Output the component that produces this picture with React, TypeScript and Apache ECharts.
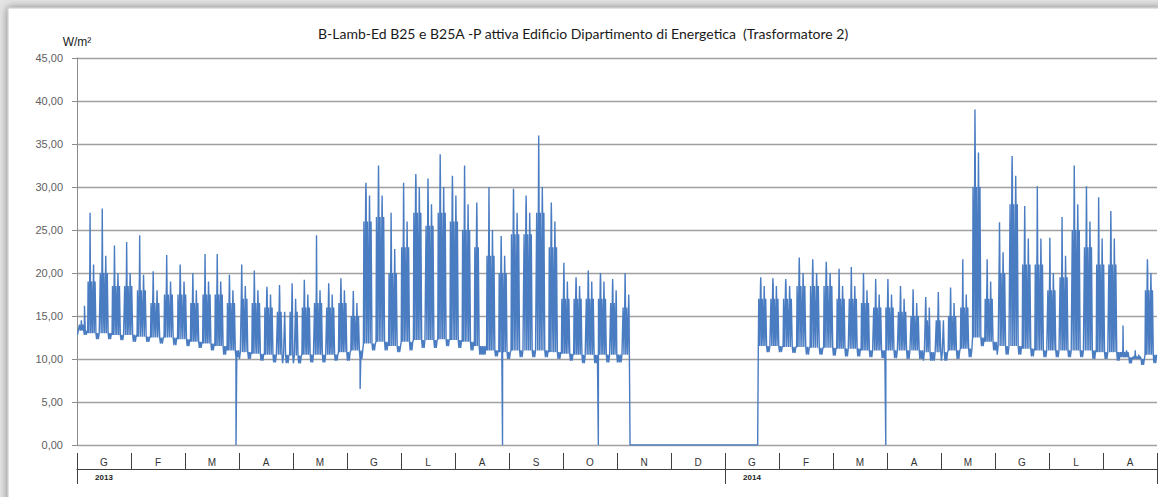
import React, { useEffect, useRef } from 'react';
import * as echarts from 'echarts';

const TITLE = 'B-Lamb-Ed B25 e B25A -P attiva Edificio Dipartimento di Energetica  (Trasformatore 2)';
const UNIT = 'W/m²';
const monthLabels = ['G', 'F', 'M', 'A', 'M', 'G', 'L', 'A', 'S', 'O', 'N', 'D', 'G', 'F', 'M', 'A', 'M', 'G', 'L', 'A'];
const yearLabels = ['2013', '2014'];
const yearStartMonth = [0, 12];
const yMin = 0;
const yMax = 45;
const yStep = 5;

const dataStart = '2013-01-01';
const dataEnd = '2014-08-31';
const firstMonday = '2012-12-31';
const gapRange = ['2013-11-08', '2014-01-19'];

// one value per week (weeks starting Monday 2012-12-31)
const weekPeak = [
  16, 27, 27.5, 23.2, 23.6, 24.4, 20.2, 22.1, 21, 20, 22.2, 22.2, 19.8, 21, 20.3, 18.4, 18.6, 18.8, 19.2, 24.4, 18.8, 19.4,
  17.9, 30.5, 32.5, 27, 30.5, 31.5, 31, 33.8, 31.3, 32.5, 28.2, 30, 24.3, 29.8, 29, 36, 28.2, 21.2, 19.5, 20.3, 20, 19.3, 20,
  0, 0, 0, 0, 0, 0, 0, 0, 0, 0,
  19.5, 19.4, 19.3, 21.8, 21.6, 21.3, 20.5, 20.7, 20, 19.3, 19.3, 18.5, 18.1, 17.2, 17.8, 18.3, 21.6, 39, 21.6, 25.9, 33.6,
  27.8, 30.1, 24.1, 26.5, 32.5, 30.1, 28.8, 27.2, 13.9, 11, 21.6,
];
const weekTypical = [
  14.5, 21, 22, 20, 20, 19.8, 18, 19, 19, 18, 19, 19, 18, 18.5, 18, 17.5, 17, 17, 17.5, 18, 17.5, 18,
  16.5, 29, 29, 22.8, 26, 30, 28, 30, 29, 28, 26, 25, 22, 27, 27, 30, 26, 19, 18.5, 19, 19, 18, 17.5,
  0, 0, 0, 0, 0, 0, 0, 0, 0, 0,
  18.5, 18.5, 18.5, 20, 20, 20, 18.5, 18.5, 18, 17.5, 17.5, 17, 16.5, 16, 16, 16.5, 17.5, 34, 19, 22.4, 31.3,
  24, 24, 20, 22, 28, 26, 24, 24, 11, 10.5, 20,
];
// a second working-day level per week (the lower days of each block)
const weekLower = [
  14, 19, 20, 18.5, 18.5, 18, 16.5, 17.5, 17.5, 16.5, 17.5, 17.5, 16.5, 17, 16.5, 16, 15.5, 15.5, 16, 16.5, 16, 16.5,
  15, 26, 26.5, 20, 23, 27, 25.5, 27, 26, 25, 23, 22, 20, 24.5, 24.5, 27, 23, 17, 17, 17, 17, 16.5, 16,
  0, 0, 0, 0, 0, 0, 0, 0, 0, 0,
  17, 17, 17, 18.5, 18.5, 18.5, 17, 17, 16.5, 16, 16, 15.5, 15, 14.5, 14.5, 15, 16, 30, 17, 20, 28,
  21, 21, 18, 19.5, 25, 23, 21, 21, 10.8, 10.3, 18,
];
const weekNight = [
  13.3, 13, 13, 12.8, 12.8, 12.6, 12.5, 12.5, 12.3, 12, 11.8, 11.5, 11, 10.8, 10.6, 10.5, 10.5, 10.4, 10.5, 10.5, 10.5, 10.8,
  11, 11.8, 12, 11.5, 12, 12.2, 12.2, 12.3, 12.2, 12, 11.5, 11, 10.8, 11, 11, 11, 10.8, 10.6, 10.5, 10.5, 10.5, 10.5, 10.5,
  0, 0, 0, 0, 0, 0, 0, 0, 0, 0,
  11.5, 11.5, 11.4, 11.4, 11.3, 11.3, 11.2, 11.2, 11, 11, 11, 11, 11, 10.8, 10.8, 11, 11.2, 12.5, 12, 11.5, 11.5,
  11.2, 11, 11, 11, 11, 11, 10.8, 10.8, 10.2, 10, 10.5,
];
const weekWeekend = [
  12.8, 12.3, 12.3, 12.2, 12, 12, 11.8, 11.6, 11.5, 11.3, 11, 10.5, 10.2, 10, 9.8, 9.6, 9.5, 9.5, 9.6, 9.6, 9.8, 9.8,
  10, 11, 11, 10.8, 11, 11.3, 11.3, 11.5, 11.3, 11, 10.5, 10.3, 10, 10.2, 10.2, 10.2, 10, 9.8, 9.5, 9.5, 9.6, 9.6, 9.8,
  0, 0, 0, 0, 0, 0, 0, 0, 0, 0,
  10.8, 10.8, 10.7, 10.5, 10.5, 10.4, 10.3, 10.3, 10.2, 10.1, 10.1, 10, 10, 9.8, 9.8, 10, 10.2, 11.5, 11, 10.5, 10.5,
  10.3, 10.2, 10.2, 10.2, 10.2, 10, 10, 9.8, 9.5, 9.3, 9.5,
];

const holidays = [
  '2013-01-01', '2013-04-01', '2013-04-25', '2013-05-01', '2013-08-15', '2013-08-16', '2013-11-01',
  '2014-04-21', '2014-04-25', '2014-05-01', '2014-06-02',
];
const specialValues: [string, number][] = [
  ['2013-01-05', 16.2],
  ['2013-03-30', 0],
  ['2013-06-08', 6.5],
  ['2013-08-28', 0],
  ['2013-10-21', 0],
  ['2014-03-31', 0],
];

const DAY = 86400000;
const parse = (s: string) => {
  const [y, m, d] = s.split('-').map(Number);
  return Date.UTC(y, m - 1, d);
};
const monthPos = (t: number, hour: number) => {
  const dt = new Date(t);
  const y = dt.getUTCFullYear();
  const m = dt.getUTCMonth();
  const d = dt.getUTCDate();
  const dim = new Date(Date.UTC(y, m + 1, 0)).getUTCDate();
  return (y - 2013) * 12 + m + (d - 1 + hour / 24) / dim;
};

function buildSeries() {
  const pts: [number, number][] = [];
  const t0 = parse(firstMonday);
  const gs = parse(gapRange[0]);
  const ge = parse(gapRange[1]);
  for (let t = parse(dataStart); t <= parse(dataEnd); t += DAY) {
    const iso = new Date(t).toISOString().slice(0, 10);
    const dayNo = Math.round((t - t0) / DAY);
    const w = Math.floor(dayNo / 7);
    const dow = dayNo % 7;
    const day: [number, number][] = [];
    if (t >= gs && t <= ge) {
      day.push([6, 0], [18, 0]);
    } else if (dow < 5 && !holidays.includes(iso)) {
      const top = dow === 1 ? weekPeak[w] : dow === 3 ? weekTypical[w] : weekLower[w];
      const second = dow === 1 ? weekTypical[w] : weekLower[w];
      day.push([3, weekNight[w]], [9, second], [12, top], [16, second], [21, weekNight[w]]);
    } else {
      day.push([6, weekWeekend[w]], [18, weekNight[w]]);
    }
    specialValues.forEach(([d, v]) => {
      if (d === iso) day.push([7, v]);
    });
    day.sort((a, b) => a[0] - b[0]);
    day.forEach(([h, v]) => pts.push([monthPos(t, h), v]));
  }
  return pts;
}

export default function App() {
  const ref = useRef<HTMLDivElement>(null);
  useEffect(() => {
    if (!ref.current) return;
    const chart = echarts.init(ref.current, undefined, { renderer: 'svg' });
    const data = buildSeries();
    chart.setOption({
      animation: false,
      backgroundColor: '#e4e4e4',
      graphic: [
        {
          type: 'rect',
          z: -10,
          shape: { x: 8, y: 8, width: 1200, height: 600 },
          style: { fill: '#ffffff', stroke: '#c8c8c8', lineWidth: 1, shadowBlur: 8, shadowColor: 'rgba(0,0,0,0.45)' },
        },
      ],
      title: {
        text: TITLE,
        left: 313,
        top: 21,
        textStyle: { fontSize: 14, fontWeight: 'normal', color: '#1a1a1a', fontFamily: 'Lato' },
      },
      grid: { left: 77, right: 1, top: 58, bottom: 52, containLabel: false },
      xAxis: [
        { type: 'value', min: 0, max: monthLabels.length, show: false },
        {
          type: 'category',
          data: monthLabels,
          position: 'bottom',
          offset: 24,
          boundaryGap: true,
          axisLine: { show: true, lineStyle: { color: '#404040', width: 1 } },
          axisTick: { show: true, inside: true, length: 16, interval: 0, lineStyle: { color: '#404040' } },
          axisLabel: { inside: true, margin: 2, interval: 0, fontSize: 10, color: '#333', fontFamily: 'Liberation Sans' },
          splitLine: { show: false },
        },
        {
          type: 'category',
          data: monthLabels,
          position: 'bottom',
          offset: 24,
          boundaryGap: true,
          axisLine: { show: false },
          axisTick: {
            show: true,
            length: 15,
            interval: (i: number) => yearStartMonth.includes(i),
            lineStyle: { color: '#404040' },
          },
          axisLabel: {
            interval: 0,
            margin: 4,
            fontSize: 8,
            fontWeight: 'bold',
            color: '#222',
            fontFamily: 'Liberation Sans',
            formatter: (_v: string, i: number) => {
              const k = yearStartMonth.indexOf(i);
              return k >= 0 ? yearLabels[k] : '';
            },
          },
          splitLine: { show: false },
        },
      ],
      yAxis: {
        type: 'value',
        min: yMin,
        max: yMax,
        interval: yStep,
        name: UNIT,
        nameLocation: 'end',
        nameGap: 10,
        nameTextStyle: { fontSize: 12, color: '#222', fontFamily: 'Liberation Sans', align: 'center' },
        axisLine: { show: true, lineStyle: { color: '#8c8c8c', width: 1 } },
        axisTick: { show: true, length: 5, lineStyle: { color: '#8c8c8c' } },
        axisLabel: {
          margin: 14,
          fontSize: 11,
          color: '#606060',
          fontFamily: 'Liberation Sans',
          formatter: (v: number) => v.toFixed(2).replace('.', ','),
        },
        splitLine: { show: true, lineStyle: { color: '#a0a0a0', width: 1.3 } },
      },
      series: [
        {
          type: 'line',
          xAxisIndex: 0,
          yAxisIndex: 0,
          data,
          showSymbol: false,
          symbol: 'none',
          lineStyle: { color: '#4a7cc2', width: 1.4 },
          itemStyle: { color: '#4a7cc2' },
        },
      ],
    });
    return () => chart.dispose();
  }, []);
  return <div ref={ref} style={{ position: 'fixed', left: 0, top: 0, width: 1158, height: 497 }} />;
}
